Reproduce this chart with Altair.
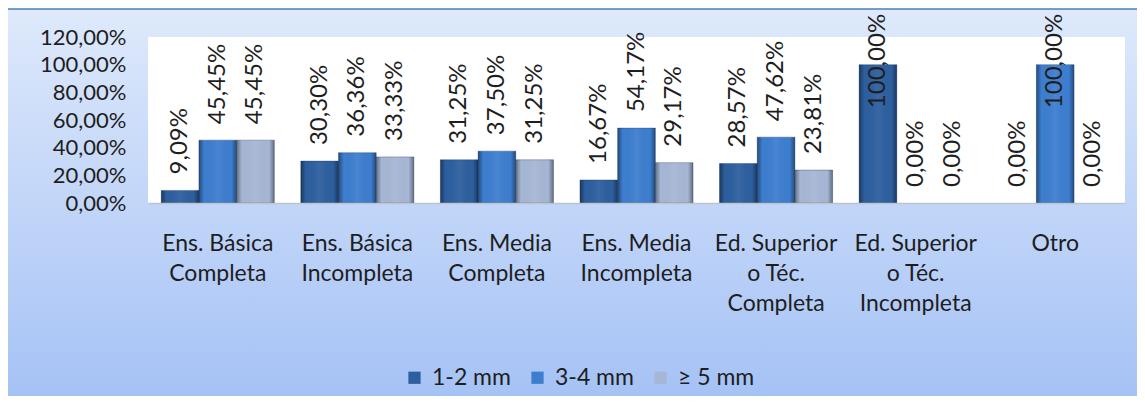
import altair as alt
import pandas as pd

categories = [
    "Ens. Básica\nCompleta",
    "Ens. Básica\nIncompleta",
    "Ens. Media\nCompleta",
    "Ens. Media\nIncompleta",
    "Ed. Superior\no Téc.\nCompleta",
    "Ed. Superior\no Téc.\nIncompleta",
    "Otro",
]
series = ["1-2 mm", "3-4 mm", "≥ 5 mm"]
v_1_2 = [9.09, 30.30, 31.25, 16.67, 28.57, 100.00, 0.00]
v_3_4 = [45.45, 36.36, 37.50, 54.17, 47.62, 0.00, 100.00]
v_5 = [45.45, 33.33, 31.25, 29.17, 23.81, 0.00, 0.00]
y_ticks = [0, 20, 40, 60, 80, 100, 120]
colors = ["#2D5F9F", "#3D7ECF", "#A6B7D5"]

rows = []
for s, vals in zip(series, [v_1_2, v_3_4, v_5]):
    for c, v in zip(categories, vals):
        rows.append({"cat": c, "series": s, "value": v})
df = pd.DataFrame(rows)

W, H = 977, 166
FONT = "Lato"
TXT = "#1E1E1E"

bg_grad = alt.LinearGradient(
    gradient="linear",
    stops=[alt.GradientStop(color="#DEE9FB", offset=0),
           alt.GradientStop(color="#A2C0F5", offset=1)],
    x1=0, x2=0, y1=0, y2=1,
)
bar_grad = alt.LinearGradient(
    gradient="linear",
    stops=[alt.GradientStop(color="rgba(0,0,0,0.4)", offset=0),
           alt.GradientStop(color="rgba(0,0,0,0)", offset=0.14),
           alt.GradientStop(color="rgba(255,255,255,0.06)", offset=0.5),
           alt.GradientStop(color="rgba(0,0,0,0)", offset=0.86),
           alt.GradientStop(color="rgba(0,0,0,0.4)", offset=1)],
    x1=0, x2=1, y1=0, y2=0,
)

dummy = pd.DataFrame({"k": [0]})
bg = alt.Chart(dummy).mark_rect(fill=bg_grad, stroke="#4A7EBB", strokeWidth=1.5).encode(
    x=alt.value(-142), x2=alt.value(992), y=alt.value(-28), y2=alt.value(383)
)
plotbg = alt.Chart(dummy).mark_rect(fill="white").encode(
    x=alt.value(0), x2=alt.value(W), y=alt.value(0), y2=alt.value(H)
)

x_axis = alt.Axis(
    title=None, labelExpr="split(datum.label, '\\n')", labelAngle=0,
    labelFont=FONT, labelFontSize=23, labelColor=TXT, labelLineHeight=30,
    labelPadding=29, labelOverlap=False, labelLimit=300, ticks=False,
    domainColor="#BFC4CC", domainWidth=1.5, grid=False, zindex=1,
    labelBaseline="top",
)
y_axis = alt.Axis(
    title=None, values=y_ticks,
    labelExpr="replace(format(datum.value, '.2f'), '.', ',') + '%'",
    labelFont=FONT, labelFontSize=22, labelColor=TXT, labelPadding=22,
    labelOverlap=False, labelFlush=False,
    ticks=False, domain=False, grid=False, zindex=1,
)
x_scale = alt.Scale(paddingInner=0.19, paddingOuter=0.095)
xo_scale = alt.Scale(paddingInner=0, paddingOuter=0)
y_scale = alt.Scale(domain=[0, 120], nice=False)


def enc_x():
    return alt.X("cat:N", sort=categories, scale=x_scale, axis=x_axis)


def enc_xo():
    return alt.XOffset("series:N", sort=series, scale=xo_scale)


bars = alt.Chart(df).transform_filter("datum.value > 0").mark_bar(
    stroke="#1E3C64", strokeWidth=0.6, strokeOpacity=0.6
).encode(
    x=enc_x(), xOffset=enc_xo(),
    y=alt.Y("value:Q", scale=y_scale, axis=y_axis),
    color=alt.Color(
        "series:N", sort=series,
        scale=alt.Scale(domain=series, range=colors),
        legend=alt.Legend(
            title=None, orient="none", direction="horizontal", legendX=255, legendY=329,
            labelFont=FONT, labelFontSize=23, labelColor=TXT, symbolType="square",
            symbolSize=150, symbolStrokeWidth=0, columnPadding=15, labelOffset=6, zindex=1,
        ),
    ),
)
overlay = alt.Chart(df).transform_filter("datum.value > 0").mark_bar(fill=bar_grad).encode(
    x=enc_x(), xOffset=enc_xo(),
    y=alt.Y("value:Q", scale=y_scale, axis=y_axis),
)
labels = alt.Chart(df).transform_calculate(
    label="replace(format(datum.value, '.2f'), '.', ',') + '%'",
    lpos="min(datum.value, 57)",
).mark_text(
    angle=270, align="left", baseline="middle", dx=16,
    font=FONT, fontSize=24, color=TXT,
).encode(
    x=enc_x(), xOffset=enc_xo(),
    y=alt.Y("lpos:Q", scale=y_scale, axis=y_axis), text="label:N",
)

chart = alt.layer(bg, plotbg, bars, overlay, labels).properties(
    width=W, height=H,
    padding={"left": 140, "top": 29, "right": 12, "bottom": 193},
    autosize=alt.AutoSizeParams(type="none"),
).configure_view(stroke=None).configure_axis(labelOverlap=False)

chart.save("out.html", embed_options={"renderer": "svg", "actions": False})
